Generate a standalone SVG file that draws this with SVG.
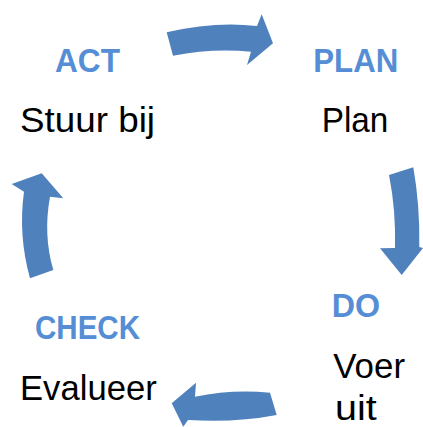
<svg xmlns="http://www.w3.org/2000/svg" width="423" height="427" viewBox="0 0 423 427">
<style>
.arrow{fill:#4F81BD;stroke:none}
.head{font-family:"Liberation Sans",Arial,sans-serif;font-weight:bold;font-size:34px;fill:#558ED5}
.lbl{font-family:"Liberation Sans",Arial,sans-serif;font-size:35px;fill:#000}
</style>
<rect width="423" height="427" fill="#fff"/>
<g id="connectors">
<path class="arrow" d="M166.7,32.3 Q215,21 257,26 L261.7,14.3 L273,43.3 L247,65 L251,51.7 Q212,48 173,55.7 Z"/>
<path class="arrow" d="M389,175 Q396,210 395,248 L380,248.3 L401.7,275 L423,248 L419.3,247 Q420,205 413.3,167.3 Z"/>
<path class="arrow" d="M270,392.7 Q232,389 195,396.7 L196,382.7 L171.7,403.3 L183.3,426.7 L188,420 Q235,423 276.7,415 Z"/>
<path class="arrow" d="M30,278.3 Q18,235 24,191.7 L11.7,184 L41.7,173.3 L63.3,198.3 L50,196.7 Q43,235 53.3,270 Z"/>
</g>
<g id="act">
<text class="head" x="55" y="71.7" textLength="65" lengthAdjust="spacingAndGlyphs">ACT</text>
<text class="lbl" x="20" y="131.7" textLength="135" lengthAdjust="spacingAndGlyphs">Stuur bij</text>
</g>
<g id="plan">
<text class="head" x="313.3" y="71.7" textLength="85" lengthAdjust="spacingAndGlyphs">PLAN</text>
<text class="lbl" x="321.7" y="131.7" textLength="66.7" lengthAdjust="spacingAndGlyphs">Plan</text>
</g>
<g id="do">
<text class="head" x="331.7" y="316.7" textLength="48.3" lengthAdjust="spacingAndGlyphs">DO</text>
<text class="lbl" x="333.3" y="378.3" textLength="71.7" lengthAdjust="spacingAndGlyphs">Voer</text>
<text class="lbl" x="335" y="420" font-size="32" textLength="41.7" lengthAdjust="spacingAndGlyphs">uit</text>
</g>
<g id="check">
<text class="head" x="35" y="339.3" textLength="105" lengthAdjust="spacingAndGlyphs">CHECK</text>
<text class="lbl" x="20" y="400" textLength="136.7" lengthAdjust="spacingAndGlyphs">Evalueer</text>
</g>
</svg>
